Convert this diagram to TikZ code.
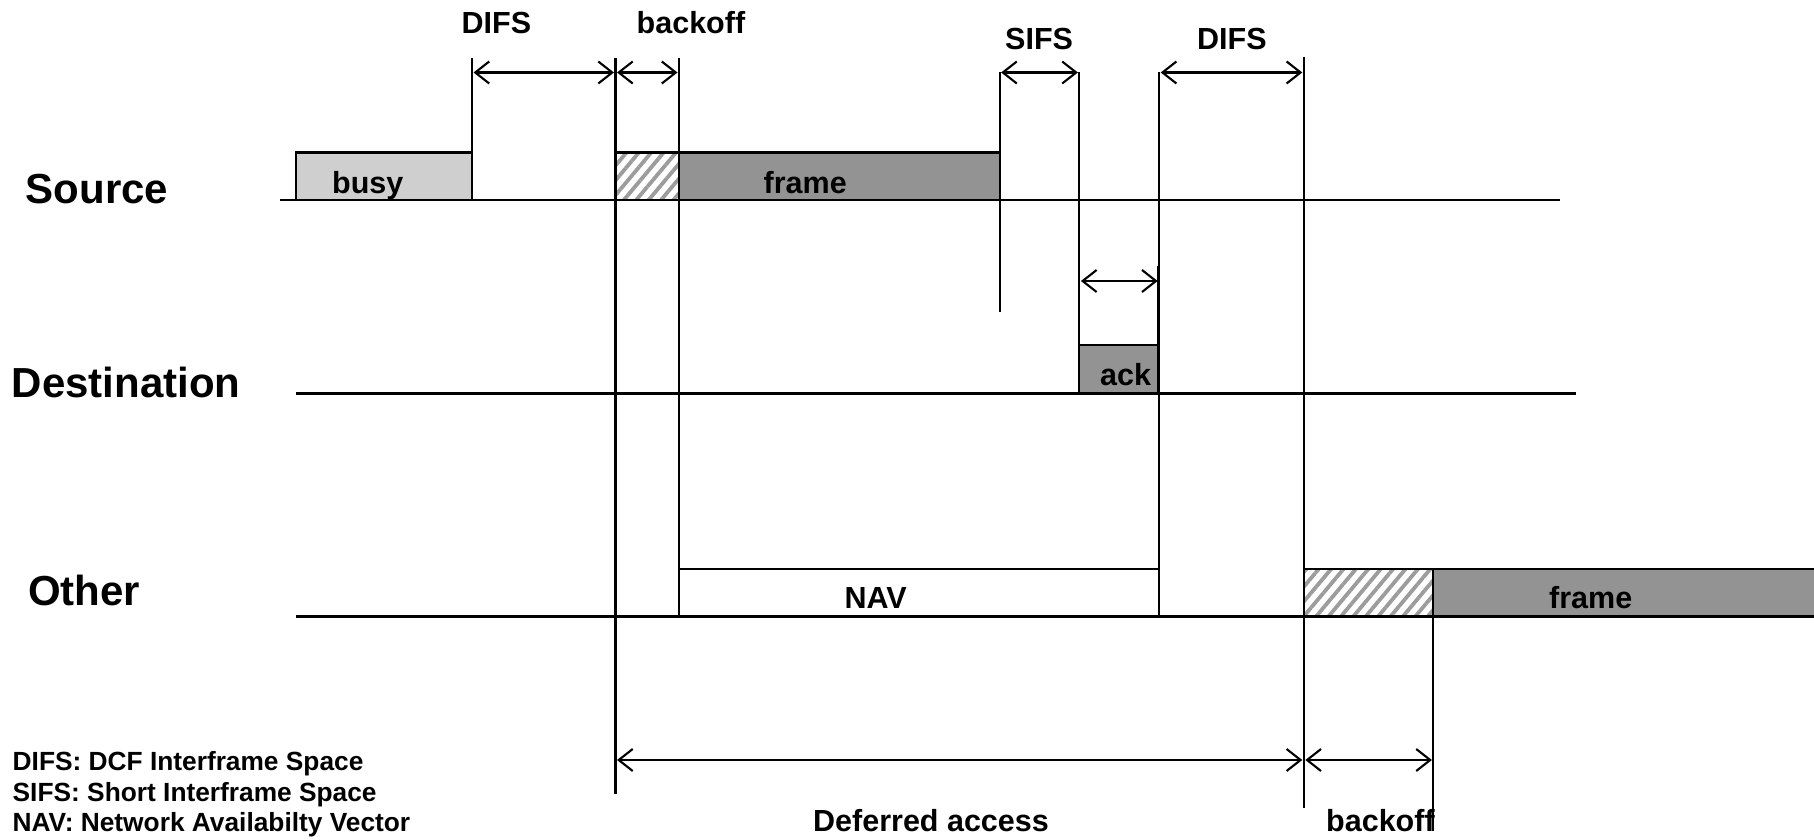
\documentclass[tikz,border=0pt]{standalone}
\usepackage{fontspec}
\setmainfont{Liberation Sans}
\usetikzlibrary{arrows.meta,patterns.meta}
\definecolor{busygray}{HTML}{CFCFCF}
\definecolor{framegray}{HTML}{939393}
\definecolor{hatchgray}{HTML}{9C9C9C}
\tikzset{
  hline/.style={line width=2.7pt},
  vline/.style={line width=2.1pt},
  boxline/.style={line width=2.6pt},
  barb/.tip={Straight Barb[length=14pt,width=22pt,line width=2.1pt]},
  dim/.style={line width=2.1pt,{barb}-{barb},shorten <=1.5pt,shorten >=1.5pt},
  lbl/.style={font=\bfseries\fontsize{30.5}{36}\selectfont,inner sep=0pt,anchor=base west},
  rowlbl/.style={font=\bfseries\fontsize{42}{48}\selectfont,inner sep=0pt,anchor=base west},
  leg/.style={font=\bfseries\fontsize{26.3}{31}\selectfont,inner sep=0pt,anchor=base west},
  hatchfill/.style={pattern={Lines[angle=50,distance=9.5pt,line width=3.8pt]},pattern color=hatchgray},
}
\begin{document}
\begin{tikzpicture}[x=1pt,y=-1pt]
\useasboundingbox (0,0) rectangle (1814,840);
% ---------- arrow end points ----------
\coordinate (d1a) at (472,72.5);  \coordinate (d1b) at (615.5,72.5);
\coordinate (b1a) at (615.5,72.5);\coordinate (b1b) at (679,72.5);
\coordinate (s1a) at (999.6,72.5);\coordinate (s1b) at (1079.4,72.5);
\coordinate (d2a) at (1159.2,72.5);\coordinate (d2b) at (1303.8,72.5);
\coordinate (s2a) at (1079.4,281);\coordinate (s2b) at (1159.2,281);
\coordinate (dfa) at (615.5,760);\coordinate (dfb) at (1303.8,760);
\coordinate (b2a) at (1303.8,760);\coordinate (b2b) at (1433.4,760);

% ---------- boxes (fills) ----------
\fill[busygray] (296,152.7) rectangle (472,200);
\fill[white] (615.5,152.7) rectangle (679,200);
\fill[hatchfill] (615.5,152.7) rectangle (679,200);
\fill[framegray] (679,152.7) rectangle (999.6,200);
\fill[framegray] (1079.4,345) rectangle (1159.2,393.3);
\fill[white] (1303.8,569) rectangle (1433.4,616.6);
\fill[hatchfill] (1303.8,569) rectangle (1433.4,616.6);
\fill[framegray] (1433.4,569) rectangle (1814,616.6);

% ---------- box outlines ----------
\draw[boxline] (296,200) -- (296,152.7) -- (472,152.7);
\draw[boxline] (615.5,152.7) -- (999.6,152.7);
\draw[boxline] (1079.4,345) -- (1159.2,345);
\draw[boxline] (679,569) -- (1159.2,569);
\draw[boxline] (1303.8,569) -- (1814,569);

% ---------- time lines ----------
\draw[hline] (280,200) -- (1559.5,200);
\draw[hline] (296,393.3) -- (1575.7,393.3);
\draw[hline] (296,616.6) -- (1814,616.6);

% ---------- vertical markers ----------
\draw[vline] (472,58) -- (472,200);
\draw[vline] (615.5,58) -- (615.5,793.6);
\draw[vline] (679,58) -- (679,616.6);
\draw[vline] (999.6,72.5) -- (999.6,312.4);
\draw[vline] (1079.4,72.5) -- (1079.4,393.3);
\draw[vline] (1159.2,72.5) -- (1159.2,616.6);
\draw[boxline] (1158.5,266) -- (1158.5,393.3);
\draw[vline] (1303.8,57) -- (1303.8,807.5);
\draw[vline] (1433.4,569) -- (1433.4,830.6);

% ---------- dimension arrows ----------
\draw[dim] (d1a) -- (d1b);
\draw[dim] (b1a) -- (b1b);
\draw[dim] (s1a) -- (s1b);
\draw[dim] (d2a) -- (d2b);
\draw[dim] (s2a) -- (s2b);
\draw[dim] (dfa) -- (dfb);
\draw[dim] (b2a) -- (b2b);

% ---------- labels ----------
\node[lbl] (tDIFS1) at (461.5,33.3) {DIFS};
\node[lbl] (tBO1) at (636.5,33.3) {backoff};
\node[lbl] (tSIFS) at (1005,50) {SIFS};
\node[lbl] (tDIFS2) at (1197,50) {DIFS};
\node[lbl] (tbusy) at (332,193) {busy};
\node[lbl] (tframe1) at (763.5,193) {frame};
\node[lbl] (tack) at (1100,385) {ack};
\node[lbl] (tNAV) at (844.5,608) {NAV};
\node[lbl] (tframe2) at (1549,608) {frame};
\node[lbl] (tdef) at (813,831.5) {Deferred access};
\node[lbl] (tBO2) at (1326,831.5) {backoff};

\node[rowlbl] (rSrc) at (25.5,203.3) {Source};
\node[rowlbl] (rDst) at (11.6,397) {Destination};
\node[rowlbl] (rOth) at (27.8,605) {Other};

\node[leg] (l1) at (12.5,770) {DIFS: DCF Interframe Space};
\node[leg] (l2) at (12.5,801.7) {SIFS: Short Interframe Space};
\node[leg] (l3) at (12.5,831.7) {NAV: Network Availabilty Vector};
\end{tikzpicture}
\end{document}
